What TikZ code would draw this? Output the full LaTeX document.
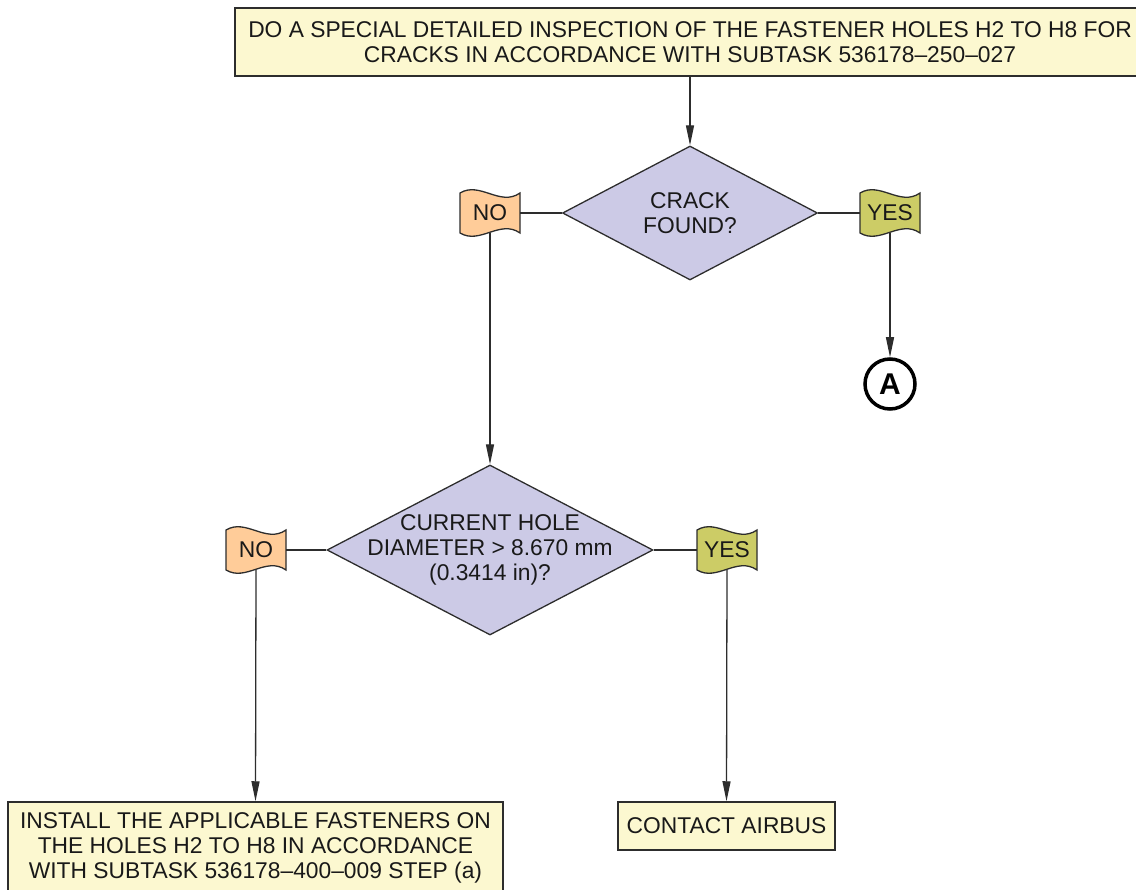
\documentclass[tikz,border=0pt]{standalone}
\usepackage{fontspec}
\setmainfont{Liberation Sans}
\usetikzlibrary{shapes.geometric,arrows.meta,backgrounds}
\definecolor{boxfill}{RGB}{252,248,208}
\definecolor{decfill}{RGB}{204,202,230}
\definecolor{nofill}{RGB}{255,204,153}
\definecolor{yesfill}{RGB}{204,204,102}
\definecolor{edge}{RGB}{45,45,45}
\definecolor{ink}{RGB}{25,25,25}
\begin{document}
\begin{tikzpicture}[x=1pt,y=-1pt,
  every node/.style={text=ink, font=\fontsize{22.8}{25}\selectfont, align=center},
  actbox/.style={draw=edge, line width=1.5pt, fill=boxfill, inner sep=0pt},
  decision/.style={diamond, draw=edge, line width=1.3pt, fill=decfill, inner sep=0pt},
  flagtxt/.style={minimum width=60pt, minimum height=40pt, inner sep=0pt},
  flagline/.style={draw=edge, line width=1.3pt},
  link/.style={draw=edge, line width=1.3pt},
  arrow/.style={link, -{Triangle[length=20pt,width=8pt]}},
]
\useasboundingbox (0,0) rectangle (1136,890);

% process boxes
\node[actbox, minimum width=910pt, minimum height=68pt] (top) at (690,42)
  {DO A SPECIAL DETAILED INSPECTION OF THE FASTENER HOLES H2 TO H8 FOR\\
   CRACKS IN ACCORDANCE WITH SUBTASK 536178--250--027};
\node[actbox, minimum width=495pt, minimum height=92pt] (install) at (255.5,848)
  {INSTALL THE APPLICABLE FASTENERS ON\\
   THE HOLES H2 TO H8 IN ACCORDANCE\\
   WITH SUBTASK 536178--400--009 STEP (a)};
\node[actbox, minimum width=217pt, minimum height=48pt] (contact) at (726.5,826)
  {CONTACT AIRBUS};

% decisions: fixed-size diamonds, question set as a centred label
\node[decision, minimum width=255pt, minimum height=134pt,
  label={[name=q1, align=center]center:CRACK\\FOUND?}] (d1) at (690,213) {};
\node[decision, minimum width=326pt, minimum height=170pt,
  label={[name=q2, align=center]center:CURRENT HOLE\\DIAMETER > 8.670 mm\\(0.3414 in)?}]
  (d2) at (490,550) {};

% answer flags
\node[flagtxt] (no1) at (490,213) {NO};
\node[flagtxt] (yes1) at (890,213) {YES};
\node[flagtxt] (no2) at (256,550) {NO};
\node[flagtxt] (yes2) at (727,550) {YES};

% connector to sheet A
\node[circle, draw=black, line width=3.5pt, minimum size=50pt, inner sep=0pt,
  font=\fontsize{30}{32}\selectfont\bfseries, text=black] (A) at (890,384) {A};

% waving flag outlines behind the answer labels
\begin{scope}[on background layer]
\foreach \n/\c in {no1/nofill,yes1/yesfill,no2/nofill,yes2/yesfill}{
  \begin{scope}[shift={(\n.center)}]
    \path[flagline, fill=\c] (-30,-20) .. controls (-10,-32) and (10,-6) .. (30,-20)
      -- (30,20) .. controls (10,6) and (-10,32) .. (-30,20) -- cycle;
  \end{scope}
}
\end{scope}

% connectors
\draw[arrow] (top.south) -- (d1.north);
\draw[link] (d1.west) -- (no1.east);
\draw[link] (d1.east) -- (yes1.west);
\draw[arrow] (no1.south) -- (d2.north);
\draw[arrow] (yes1.south) -- (A.north);
\draw[link] (d2.west) -- (no2.east);
\draw[link] (d2.east) -- (yes2.west);
\draw[arrow] (no2.south) -- (install.north);
\draw[arrow] (yes2.south) -- (contact.north);
\end{tikzpicture}
\end{document}
